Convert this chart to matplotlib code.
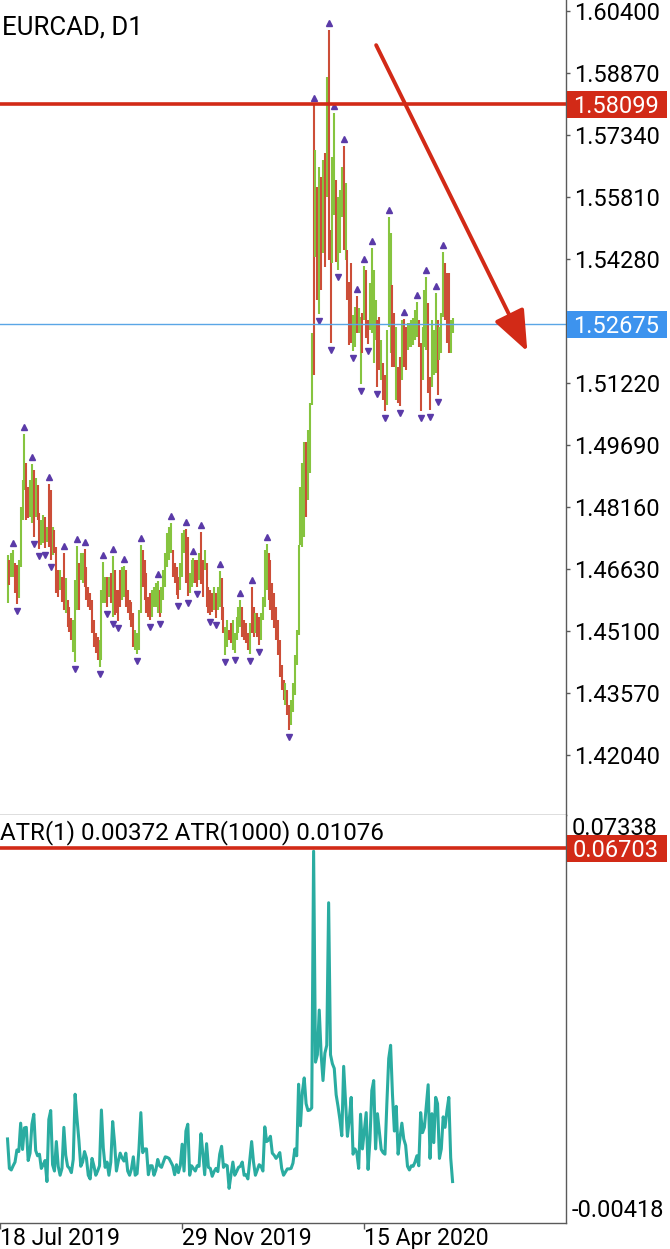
import matplotlib.pyplot as plt
import matplotlib.transforms as mtransforms
from matplotlib.patches import Rectangle
import numpy as np

plt.rcParams['font.family'] = ['Roboto', 'DejaVu Sans']

# daily bars, one per trading day (bar 0 is 18 Jul 2019)
highs = [
    1.4698, 1.4686, 1.4703, 1.4711, 1.4679, 1.4674, 1.4686, 1.4817, 1.4883, 1.4997,
    1.4925, 1.4866, 1.4883, 1.4923, 1.4908, 1.4888, 1.4871, 1.4802, 1.4785, 1.4797,
    1.4792, 1.4767, 1.4873, 1.4858, 1.4767, 1.4760, 1.4718, 1.4661, 1.4661, 1.4644,
    1.4703, 1.4642, 1.4587, 1.4570, 1.4543, 1.4538, 1.4637, 1.4720, 1.4679, 1.4703,
    1.4703, 1.4713, 1.4669, 1.4619, 1.4605, 1.4587, 1.4538, 1.4506, 1.4496, 1.4489,
    1.4612, 1.4681, 1.4644, 1.4644, 1.4644, 1.4654, 1.4696, 1.4661, 1.4612, 1.4612,
    1.4661, 1.4669, 1.4671, 1.4661, 1.4612, 1.4587, 1.4582, 1.4555, 1.4513, 1.4506,
    1.4563, 1.4723, 1.4711, 1.4686, 1.4654, 1.4595, 1.4605, 1.4612, 1.4619, 1.4629,
    1.4634, 1.4612, 1.4619, 1.4661, 1.4703, 1.4752, 1.4767, 1.4777, 1.4711, 1.4679,
    1.4669, 1.4644, 1.4679, 1.4752, 1.4760, 1.4762, 1.4743, 1.4654, 1.4686, 1.4691,
    1.4686, 1.4686, 1.4703, 1.4755, 1.4686, 1.4711, 1.4679, 1.4619, 1.4612, 1.4605,
    1.4619, 1.4605, 1.4619, 1.4659, 1.4642, 1.4570, 1.4521, 1.4538, 1.4513, 1.4531,
    1.4538, 1.4506, 1.4545, 1.4570, 1.4587, 1.4570, 1.4538, 1.4531, 1.4506, 1.4531,
    1.4619, 1.4570, 1.4555, 1.4555, 1.4545, 1.4555, 1.4595, 1.4711, 1.4725, 1.4703,
    1.4686, 1.4629, 1.4605, 1.4570, 1.4538, 1.4489, 1.4427, 1.4390, 1.4383, 1.4365,
    1.4328, 1.4341, 1.4383, 1.4452, 1.4513, 1.4723, 1.4866, 1.4925, 1.4977, 1.4977,
    1.5006, 1.5073, 1.5245, 1.5807, 1.5697, 1.5605, 1.5655, 1.5630, 1.5672, 1.5689,
    1.5877, 1.5992, 1.5499, 1.5679, 1.5788, 1.5623, 1.5581, 1.5598, 1.5655, 1.5706,
    1.5615, 1.5450, 1.5371, 1.5418, 1.5290, 1.5310, 1.5337, 1.5307, 1.5285, 1.5295,
    1.5411, 1.5401, 1.5278, 1.5369, 1.5455, 1.5401, 1.5327, 1.5278, 1.5285, 1.5228,
    1.5172, 1.5142, 1.5253, 1.5531, 1.5492, 1.5364, 1.5295, 1.5260, 1.5162, 1.5186,
    1.5278, 1.5280, 1.5260, 1.5270, 1.5270, 1.5278, 1.5282, 1.5302, 1.5322, 1.5278,
    1.5221, 1.5260, 1.5351, 1.5384, 1.5319, 1.5137, 1.5278, 1.5253, 1.5344, 1.5278,
    1.5260, 1.5295, 1.5445, 1.5418, 1.5393, 1.5393, 1.5278, 1.5282,
]
lows = [
    1.4580, 1.4624, 1.4644, 1.4644, 1.4605, 1.4577, 1.4592, 1.4669, 1.4785, 1.4858,
    1.4785, 1.4789, 1.4792, 1.4777, 1.4743, 1.4792, 1.4785, 1.4713, 1.4723, 1.4728,
    1.4715, 1.4730, 1.4718, 1.4686, 1.4698, 1.4703, 1.4605, 1.4595, 1.4612, 1.4582,
    1.4563, 1.4555, 1.4521, 1.4508, 1.4489, 1.4459, 1.4434, 1.4563, 1.4563, 1.4637,
    1.4629, 1.4619, 1.4587, 1.4570, 1.4563, 1.4506, 1.4471, 1.4457, 1.4439, 1.4422,
    1.4439, 1.4580, 1.4580, 1.4570, 1.4595, 1.4580, 1.4545, 1.4550, 1.4555, 1.4536,
    1.4570, 1.4587, 1.4595, 1.4570, 1.4555, 1.4538, 1.4521, 1.4471, 1.4464, 1.4454,
    1.4464, 1.4555, 1.4619, 1.4587, 1.4555, 1.4545, 1.4538, 1.4545, 1.4570, 1.4570,
    1.4555, 1.4545, 1.4555, 1.4587, 1.4619, 1.4669, 1.4686, 1.4703, 1.4644, 1.4629,
    1.4600, 1.4590, 1.4612, 1.4644, 1.4703, 1.4629, 1.4597, 1.4605, 1.4619, 1.4629,
    1.4629, 1.4619, 1.4637, 1.4627, 1.4595, 1.4661, 1.4570, 1.4555, 1.4550, 1.4558,
    1.4563, 1.4543, 1.4563, 1.4570, 1.4538, 1.4506, 1.4452, 1.4471, 1.4489, 1.4481,
    1.4464, 1.4457, 1.4489, 1.4506, 1.4521, 1.4496, 1.4489, 1.4481, 1.4464, 1.4454,
    1.4506, 1.4496, 1.4506, 1.4496, 1.4476, 1.4489, 1.4538, 1.4570, 1.4612, 1.4587,
    1.4563, 1.4538, 1.4518, 1.4489, 1.4452, 1.4397, 1.4365, 1.4341, 1.4328, 1.4304,
    1.4267, 1.4279, 1.4311, 1.4353, 1.4427, 1.4501, 1.4723, 1.4718, 1.4743, 1.4792,
    1.4834, 1.4900, 1.5068, 1.5142, 1.5433, 1.5327, 1.5292, 1.5351, 1.5443, 1.5408,
    1.5581, 1.5425, 1.5221, 1.5418, 1.5536, 1.5421, 1.5401, 1.5443, 1.5531, 1.5450,
    1.5425, 1.5327, 1.5216, 1.5221, 1.5201, 1.5211, 1.5245, 1.5245, 1.5120, 1.5196,
    1.5278, 1.5233, 1.5218, 1.5253, 1.5245, 1.5172, 1.5228, 1.5112, 1.5154, 1.5130,
    1.5080, 1.5053, 1.5068, 1.5260, 1.5196, 1.5162, 1.5162, 1.5080, 1.5073, 1.5066,
    1.5130, 1.5162, 1.5154, 1.5204, 1.5211, 1.5211, 1.5216, 1.5228, 1.5236, 1.5211,
    1.5053, 1.5130, 1.5211, 1.5204, 1.5098, 1.5056, 1.5112, 1.5142, 1.5147, 1.5093,
    1.5179, 1.5196, 1.5285, 1.5278, 1.5221, 1.5196, 1.5196, 1.5245,
]
# g = bullish bar, r = bearish bar
bar_dir = (
    "grggrrgggg" "rrggrgrrgg" "rgrrgrrrgr" "rgrrrgggrg"
    "grrrrrrrrg" "gggrgrgrrr" "rggrrrrrgg" "ggrrrrrggg"
    "grggggggrr" "rrgggrrggg" "rrgrrgrrrr" "grggrrggrr"
    "gggggrrrrg" "rrgrrggggr" "rrrrrrrrgr" "rggggggggr"
    "gggrgrgrgr" "grrggrgggr" "grrrggrggr" "grrggggrrg"
    "rrgggrrgrr" "grrggggggr" "rgggrrgggr" "gggrrrgg"
)

symbol_title = "EURCAD, D1"
level_price = 1.58099
last_price = 1.52675
price_ticks = [1.42040, 1.43570, 1.45100, 1.46630, 1.48160, 1.49690, 1.51220,
               1.54280, 1.55810, 1.57340, 1.58870, 1.60400]
atr_title = "ATR(1) 0.00372 ATR(1000) 0.01076"
atr_level = 0.06703
atr_min, atr_max = -0.00418, 0.07338
date_pos = [-4, 93, 190]
date_labels = ["18 Jul 2019", "29 Nov 2019", "15 Apr 2020"]
arrow_from = (196.3, 1.5955)
arrow_to = (276.8, 1.5200)

GREEN = '#86c43f'
RED_BAR = '#cc4e38'
RED = '#d22a17'
BLUE_LINE = '#5aa6e6'
BLUE_BOX = '#3d93ee'
TEAL = '#2aaca1'
PURPLE = '#5a3aa8'
AXIS = '#5a5a5a'
FS = 17

W, H = 670, 1249
fig = plt.figure(figsize=(W / 100, H / 100), dpi=100)
ax = fig.add_axes([0, 1 - 815 / H, 566 / W, 815 / H])
ax2 = fig.add_axes([0, 26 / H, 566 / W, 408 / H], sharex=ax)

n = len(highs)
x = np.arange(n)
h = np.array(highs)
lo = np.array(lows)
colors = [GREEN if d == 'g' else RED_BAR for d in bar_dir]
ax.vlines(x, lo, h, colors=colors, linewidth=1.5)

# Bill Williams fractals
up = [i for i in range(2, n - 2) if h[i] > max(h[i - 2], h[i - 1], h[i + 1], h[i + 2])]
dn = [i for i in range(2, n - 2) if lo[i] < min(lo[i - 2], lo[i - 1], lo[i + 1], lo[i + 2])]
up_tr = mtransforms.offset_copy(ax.transData, fig=fig, y=7, units='dots')
dn_tr = mtransforms.offset_copy(ax.transData, fig=fig, y=-7, units='dots')
ax.plot(x[up], h[up], ls='none', marker='^', ms=4.2, color=PURPLE, transform=up_tr)
ax.plot(x[dn], lo[dn], ls='none', marker='v', ms=4.2, color=PURPLE, transform=dn_tr)

ax.axhline(level_price, color=RED, lw=2.6)
ax.axhline(last_price, color=BLUE_LINE, lw=1.0)
ax.annotate('', xy=arrow_to, xytext=arrow_from,
            arrowprops=dict(arrowstyle='-|>,head_length=1.25,head_width=0.5',
                            color=RED, lw=2.8, mutation_scale=20,
                            shrinkA=0, shrinkB=0))

ax.set_xlim(-0.53, 297.4)
ax.set_ylim(1.40573, 1.60663)

# ATR(1) panel
atr = h - lo
ax2.plot(x, atr, color=TEAL, lw=2.2)
ax2.axhline(atr_level, color=RED, lw=2.6)
ax2.set_ylim(atr_min, atr_max)

for a in (ax, ax2):
    a.set_facecolor('white')
    for side in ('top', 'left'):
        a.spines[side].set_visible(False)
    for side in ('bottom', 'right'):
        a.spines[side].set_color(AXIS)
        a.spines[side].set_linewidth(1.0)

ax.yaxis.tick_right()
ax.set_yticks(price_ticks)
ax.set_yticklabels([f"{v:.5f}" for v in price_ticks])
ax.tick_params(axis='y', length=3, width=1, pad=3, labelsize=FS, colors=AXIS,
               labelcolor='black')
ax.tick_params(axis='x', bottom=False, labelbottom=False)

ax2.set_yticks([])
ax2.set_xticks(date_pos)
ax2.tick_params(axis='x', length=4, width=1, colors=AXIS, labelbottom=False)
for p, s in zip(date_pos, date_labels):
    ax2.annotate(s, xy=(p, 0), xycoords=('data', 'axes fraction'),
                 xytext=(0, -4), textcoords='offset pixels',
                 ha='left', va='top', fontsize=FS - 0.4, annotation_clip=False)
for v, va, dy in ((atr_max, 'top', -2), (atr_min, 'bottom', 1)):
    ax2.annotate(f"{v:.5f}", xy=(1, v), xycoords=('axes fraction', 'data'),
                 xytext=(6, dy), textcoords='offset pixels',
                 ha='left', va=va, fontsize=FS, annotation_clip=False)

fig.canvas.draw()


def price_box(axis, value, text, color):
    trans = mtransforms.blended_transform_factory(fig.transFigure, axis.transData)
    y0 = axis.transData.transform((0, value))[1]
    lo_v = axis.transData.inverted().transform((0, y0 - 13.5))[1]
    hi_v = axis.transData.inverted().transform((0, y0 + 13.5))[1]
    axis.add_patch(Rectangle((567 / W, lo_v), 100 / W, hi_v - lo_v, transform=trans,
                             facecolor=color, edgecolor='none', clip_on=False, zorder=5))
    axis.annotate(text, xy=(1, value), xycoords=('axes fraction', 'data'),
                  xytext=(7, 0), textcoords='offset pixels', ha='left',
                  va='center_baseline', color='white', fontsize=FS,
                  annotation_clip=False, zorder=6)


price_box(ax, level_price, f"{level_price:.5f}", RED)
price_box(ax, last_price, f"{last_price:.5f}", BLUE_BOX)
price_box(ax2, atr_level, f"{atr_level:.5f}", RED)

ax.text(2 / 566, 1 - 28 / 815, symbol_title, transform=ax.transAxes,
        ha='left', va='center', fontsize=18.6)
ax2.text(0, 1 - 18 / 408, atr_title, transform=ax2.transAxes,
         ha='left', va='center', fontsize=17.4)

fig.savefig('out.png', dpi=100, facecolor='white')
